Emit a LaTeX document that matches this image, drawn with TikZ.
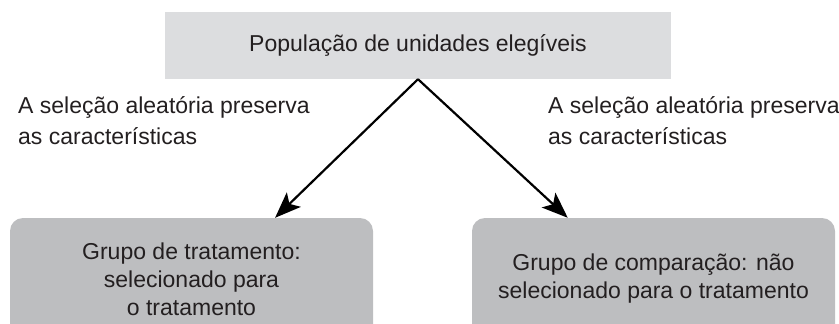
\documentclass[tikz,border=0pt]{standalone}
\usepackage{fontspec}
\setmainfont{Liberation Sans}
\usepackage{xcolor}
\usepackage{tikz}
\usetikzlibrary{calc,arrows.meta}
\definecolor{ink}{HTML}{231F20}
\definecolor{popfill}{HTML}{DCDDDF}
\definecolor{groupfill}{HTML}{BDBEC0}
\tikzset{
  popbox/.style={fill=popfill, minimum width=506pt, minimum height=67pt, inner sep=0pt, text=ink, font=\fontsize{23}{28}\selectfont},
  groupbox/.style={fill=groupfill, rounded corners=13pt, minimum width=363pt, minimum height=122pt, inner sep=0pt, align=center, text=ink, font=\fontsize{23}{28}\selectfont},
  lab/.style={text=ink, align=left, inner sep=0pt, font=\fontsize{23}{31}\selectfont},
  arrowline/.style={draw=black, line width=2.2pt, -{Stealth[length=26pt,width=20pt,inset=6pt]}},
}

\begin{document}
\begin{tikzpicture}[x=1pt,y=-1pt]
  \useasboundingbox (0,0) rectangle (839,324);
  \clip (0,0) rectangle (839,324);
  \node[popbox] (pop) at (418,45.5) {População de unidades elegíveis};
  \node[groupbox] (treat) at (191.5,279) {Grupo de tratamento:\\ selecionado para\\ o tratamento};
  \node[groupbox] (comp) at (653.5,279) {Grupo de comparação: não\\ selecionado para o tratamento};
  % arrows meet the group boxes off centre
  \draw[arrowline] (pop.south) -- ($(treat.north west)!0.73!(treat.north east)$);
  \draw[arrowline] (pop.south) -- ($(comp.north west)!0.264!(comp.north east)$);
  \node[lab,anchor=north west] (labl) at (18,96) {A seleção aleatória preserva\\ as características};
  \node[lab,anchor=north west] (labr) at (548,96) {A seleção aleatória preserva\\ as características};
\end{tikzpicture}
\end{document}
